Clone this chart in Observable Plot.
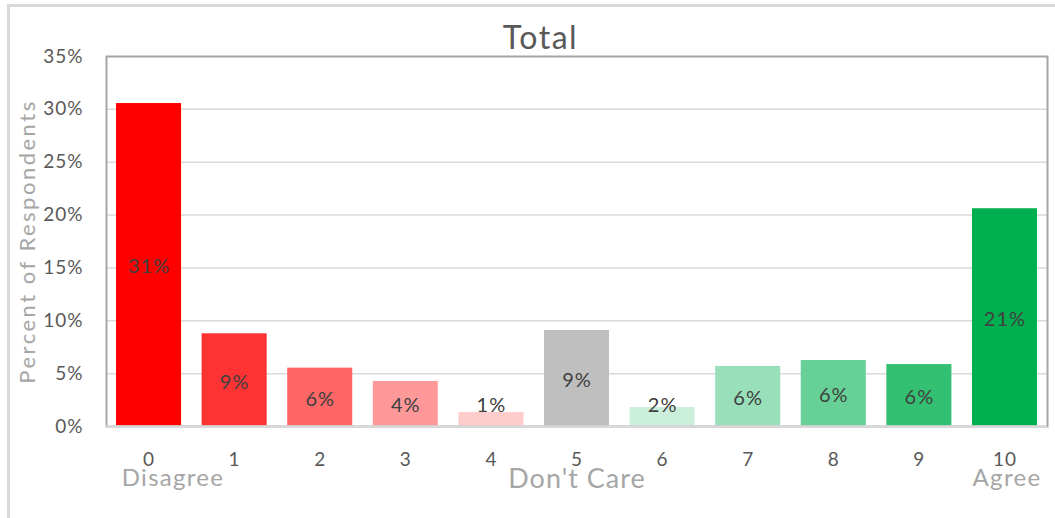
<!DOCTYPE html>
<html>
<head>
<meta charset="utf-8">
<script src="https://cdn.jsdelivr.net/npm/d3@7"></script>
<script src="https://cdn.jsdelivr.net/npm/@observablehq/plot@0.6"></script>
<style>
  html, body { margin: 0; padding: 0; background: #fff; }
  #wrap { position: relative; width: 1055px; height: 518px; overflow: hidden; font-family: Lato, sans-serif; }
  #outer { position: absolute; left: 7px; top: 4px; width: 1200px; height: 700px; border-top: 3px solid #D9D9D9; border-left: 3px solid #D9D9D9; }
  #chart { position: absolute; left: 0; top: 0; }
  #title { position: absolute; left: 0; width: 1081px; top: 21px; text-align: center; font-size: 32px; line-height: 31px; letter-spacing: 1.5px; color: #595959; font-family: Lato, sans-serif; }
</style>
</head>
<body>
<div id="wrap">
  <div id="outer"></div>
  <div id="chart"></div>
  <div id="title">Total</div>
</div>
<script>
const categories = ["0","1","2","3","4","5","6","7","8","9","10"];
const values = [0.3055, 0.0877, 0.0552, 0.0426, 0.0132, 0.0908, 0.0180, 0.0568, 0.0624, 0.0586, 0.2060];
const colors = ["#FF0000","#FF3333","#FF6666","#FF9999","#FFCCCC","#BFBFBF","#CCEFDC","#99DFB9","#66D096","#33C073","#00B050"];
const yTicks = [0, 0.05, 0.10, 0.15, 0.20, 0.25, 0.30, 0.35];
const endLabels = ["Disagree","","","","","Don't Care","","","","","Agree"];
const yTitle = "Percent of Respondents";

const data = categories.map((c, i) => ({cat: c, value: values[i], color: colors[i], end: endLabels[i]}));
const pct = d3.format(".0%");

const chart = Plot.plot({
  width: 1055,
  height: 518,
  marginTop: 56,
  marginBottom: 92,
  marginLeft: 106,
  marginRight: 8,
  style: {fontFamily: "Lato, sans-serif", background: "transparent", overflow: "visible"},
  x: {domain: categories, paddingInner: 0.24, paddingOuter: 0.117, round: false, label: null},
  y: {domain: [0, 0.35], label: null},
  color: {type: "identity"},
  marks: [
    Plot.gridY(yTicks.slice(1, -1), {stroke: "#D9D9D9", strokeOpacity: 1, strokeWidth: 1.5}),
    Plot.barY(data, {x: "cat", y: "value", fill: "color"}),
    Plot.frame({stroke: "#A6A6A6", strokeWidth: 2}),
    Plot.ruleY([0], {stroke: "#D9D9D9", strokeWidth: 2.5}),
    Plot.axisY({ticks: yTicks, tickFormat: pct, tickSize: 0, tickPadding: 23, fontSize: 19, color: "#595959", label: null}),
    Plot.axisX({tickSize: 0, tickPadding: 26, fontSize: 19, color: "#595959", label: null}),
    Plot.text(data, {x: "cat", y: d => Math.max(d.value / 2, 0.0218), text: d => pct(d.value), fontSize: 20, fill: "#404040", dy: 2}),
    Plot.text([yTitle], {frameAnchor: "left", textAnchor: "middle", dx: -79, rotate: -90, fontSize: 22, fill: "#A6A6A6"}),
    Plot.text(data.filter(d => d.end === "Disagree"), {x: "cat", text: "end", frameAnchor: "bottom", dy: 59, dx: 24, fontSize: 24, fill: "#A6A6A6"}),
    Plot.text(data.filter(d => d.end === "Don't Care"), {x: "cat", text: "end", frameAnchor: "bottom", dy: 61, dx: 0, fontSize: 27, fill: "#A6A6A6"}),
    Plot.text(data.filter(d => d.end === "Agree"), {x: "cat", text: "end", frameAnchor: "bottom", dy: 59, dx: 2, fontSize: 24, fill: "#A6A6A6"})
  ]
});
document.getElementById("chart").appendChild(chart);

// Excel-like wider letter spacing
d3.select(chart).selectAll("text").each(function () {
  const t = this.textContent;
  let ls = 1;
  if (t === yTitle) ls = 2.5;
  else if (t === "Disagree" || t === "Agree") ls = 1.3;
  else if (t === "Don't Care") ls = 1;
  this.setAttribute("letter-spacing", ls);
});
</script>
</body>
</html>
